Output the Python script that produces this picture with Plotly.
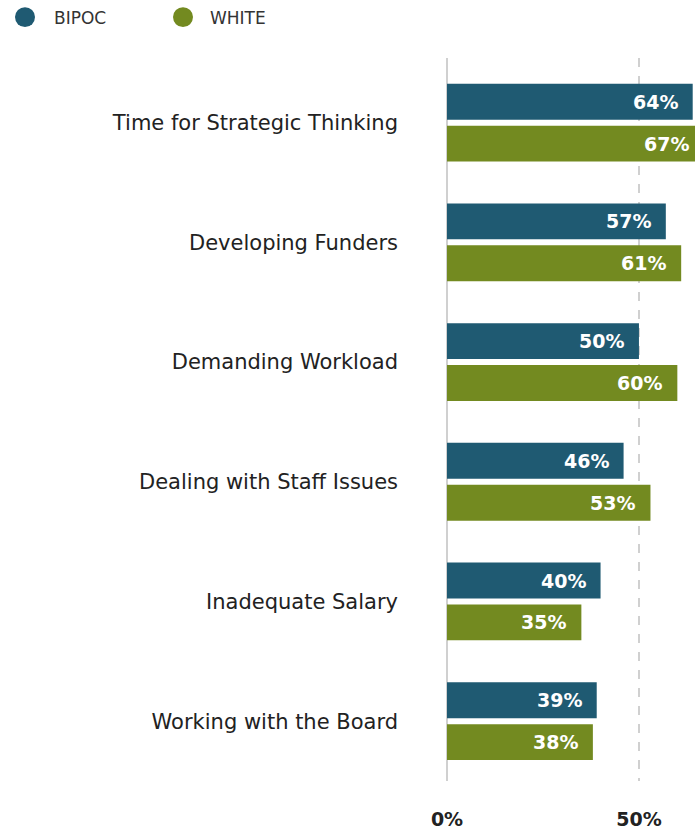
import plotly.graph_objects as go

categories = ["Time for Strategic Thinking", "Developing Funders", "Demanding Workload",
              "Dealing with Staff Issues", "Inadequate Salary", "Working with the Board"]
bipoc = [64, 57, 50, 46, 40, 39]
white = [67, 61, 60, 53, 35, 38]
series_names = ["BIPOC", "WHITE"]
colors = ["#1f5a72", "#738a20"]
tick_vals = [0, 50]
tick_text = ["0%", "50%"]

FONT = "DejaVu Sans"
W, H = 695, 830
ML, MR, MT, MB = 447, 0, 58, 47
XMAX = 64.6
px_per_unit = (W - ML - MR) / XMAX


def px2paper(px, py):
    return (px - ML) / (W - ML - MR), (H - MB - py) / (H - MT - MB)


fig = go.Figure()
for name, vals, col in zip(series_names, [bipoc, white], colors):
    fig.add_trace(go.Bar(
        y=categories, x=vals, name=name, orientation="h",
        marker_color=col, marker_line_width=0, showlegend=False,
        hoverinfo="skip",
    ))

# value labels, right-aligned inside the bar ends (bars past the axis end keep their offset)
for i, vals in enumerate([bipoc, white]):
    off = -0.175 if i == 0 else 0.175
    for k, v in enumerate(vals):
        xa = min(v, XMAX)
        fig.add_annotation(
            x=xa, y=k + off, xref="x", yref="y", text=f"{v}%",
            showarrow=False, xanchor="right", xshift=-13 + (v - xa) * px_per_unit,
            font=dict(family=FONT, size=19, color="white", weight=600),
        )

# legend drawn by hand: circle + label
legend_pos = [(25, 52), (183, 208)]
for (cx, tx), name, col in zip(legend_pos, series_names, colors):
    x0, y0 = px2paper(cx - 10, 27)
    x1, y1 = px2paper(cx + 10, 7)
    fig.add_shape(type="circle", xref="paper", yref="paper",
                  x0=x0, y0=y0, x1=x1, y1=y1,
                  fillcolor=col, line_width=0)
    ax, ay = px2paper(tx, 18)
    fig.add_annotation(x=ax, y=ay, xref="paper", yref="paper", text=name,
                       showarrow=False, xanchor="left", yanchor="middle",
                       font=dict(family=FONT, size=17, color="#333"))

fig.update_layout(
    width=W, height=H,
    margin=dict(l=ML, r=MR, t=MT, b=MB),
    plot_bgcolor="white", paper_bgcolor="white",
    barmode="group", bargap=0.3, bargroupgap=0.143,
    font=dict(family=FONT, color="#222"),
    showlegend=False,
)

fig.update_xaxes(
    range=[0, XMAX], tickvals=tick_vals, ticktext=tick_text,
    showgrid=True, gridcolor="#d0d0d0", gridwidth=2, griddash="dash",
    zeroline=True, zerolinecolor="#d0d0d0", zerolinewidth=2,
    showline=False, ticks="", ticklabelstandoff=25,
    tickfont=dict(family=FONT, size=19, color="#222", weight=600),
    fixedrange=True,
)
fig.update_yaxes(
    type="category", categoryorder="array", categoryarray=categories,
    range=[5.5, -0.54], showgrid=False, zeroline=False, showline=False,
    ticks="", ticklabelstandoff=48,
    tickfont=dict(family=FONT, size=21, color="#222"),
    fixedrange=True,
)

fig.write_html("out.html", config={"displayModeBar": False},
               post_script="document.body.style.margin='0';")
